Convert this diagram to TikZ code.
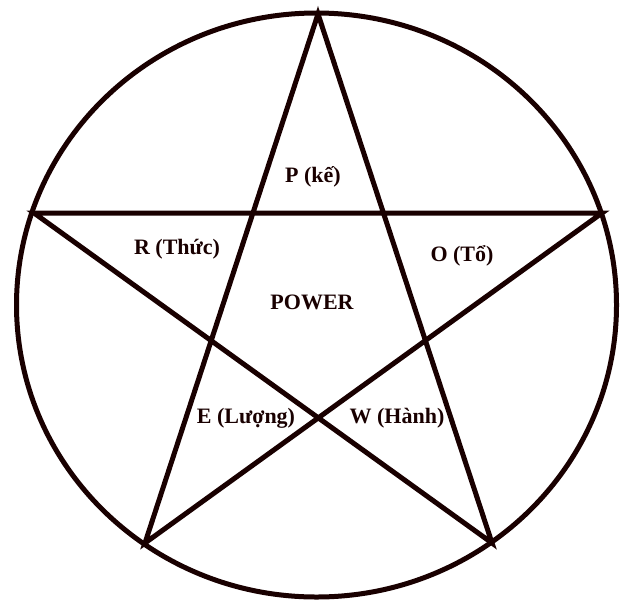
\documentclass[tikz,border=0pt]{standalone}
\usepackage{fontspec}
\setmainfont{Liberation Serif}
\begin{document}
\begin{tikzpicture}[x=1pt,y=-1pt,
  line/.style={draw=black!90!red, line width=5pt, line join=miter},
  lbl/.style={font=\bfseries\fontsize{22}{25}\selectfont, text=black!90!red, inner sep=0pt}]
\useasboundingbox (0,0) rectangle (628,600);
\coordinate (c) at (316.5,305);
\draw[line] (c) ellipse [x radius=300, y radius=292];
\coordinate (t) at (318,14);
\coordinate (l) at (34,213);
\coordinate (r) at (602,213);
\coordinate (bl) at (145,543);
\coordinate (br) at (492,543);
\draw[line] (t) -- (bl) -- (r) -- (l) -- (br) -- cycle;
\node[lbl] (p) at (313,177) {P (kế)};
\node[lbl] (rr) at (177,249) {R (Thức)};
\node[lbl] (o) at (462,256) {O (Tổ)};
\node[lbl] (pw) at (312,302) {POWER};
\node[lbl] (e) at (246,418) {E (Lượng)};
\node[lbl] (w) at (397,418) {W (Hành)};
\end{tikzpicture}
\end{document}
